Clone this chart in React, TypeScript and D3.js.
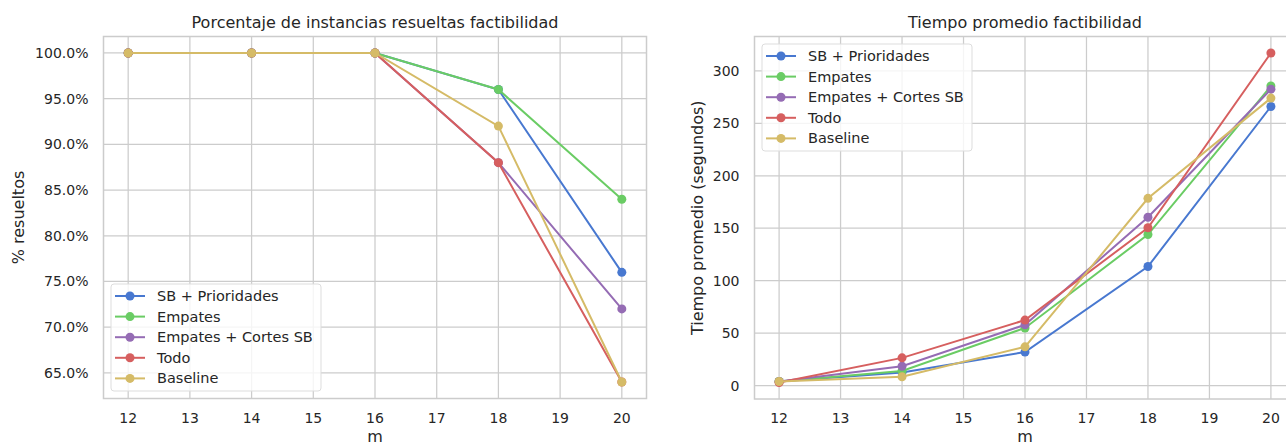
import React, { useEffect, useRef } from "react";
import * as d3 from "d3";

// m values
const categories = [12, 14, 16, 18, 20];
const seriesNames = ["SB + Prioridades", "Empates", "Empates + Cortes SB", "Todo", "Baseline"];
const colors = ["#4878D0", "#6ACC64", "#956CB4", "#D65F5F", "#D5BB67"];

// % de instancias resueltas
const pctSB = [100, 100, 100, 96, 76];
const pctEmpates = [100, 100, 100, 96, 84];
const pctEmpCortes = [100, 100, 100, 88, 72];
const pctTodo = [100, 100, 100, 88, 64];
const pctBaseline = [100, 100, 100, 92, 64];

// tiempo promedio (segundos)
const timeSB = [4, 12.5, 32, 113.5, 266];
const timeEmpates = [4, 14, 55, 144, 285.5];
const timeEmpCortes = [4, 18.5, 58, 160.5, 282.5];
const timeTodo = [3, 26.5, 62.5, 150.5, 317];
const timeBaseline = [4, 8.5, 37, 178.5, 274];

const xTicks = [12, 13, 14, 15, 16, 17, 18, 19, 20];
const pctTicks = [65, 70, 75, 80, 85, 90, 95, 100];
const timeTicks = [0, 50, 100, 150, 200, 250, 300];

const FONT = "DejaVu Sans, sans-serif";
const TEXT = "#262626";
const GRID = "#cccccc";

const Panel = ({ frame, series, yTicks, yFormat, title, yLabel, yLabelX, legendTop }) => {
	const ref = useRef(null);

	useEffect(() => {
		const g = d3.select(ref.current);
		const all = series.flat();
		const [lo, hi] = d3.extent(all);
		const pad = (hi - lo) * 0.05;

		const x = d3.scaleLinear().domain([11.6, 20.4]).range([frame.left, frame.right]);
		const y = d3.scaleLinear().domain([lo - pad, hi + pad]).range([frame.bottom, frame.top]);

		// grid
		g.append("g")
			.selectAll("line")
			.data(xTicks)
			.enter()
			.append("line")
			.attr("x1", (d) => x(d))
			.attr("x2", (d) => x(d))
			.attr("y1", frame.top)
			.attr("y2", frame.bottom)
			.attr("stroke", GRID)
			.attr("stroke-width", 1.25);
		g.append("g")
			.selectAll("line")
			.data(yTicks)
			.enter()
			.append("line")
			.attr("x1", frame.left)
			.attr("x2", frame.right)
			.attr("y1", (d) => y(d))
			.attr("y2", (d) => y(d))
			.attr("stroke", GRID)
			.attr("stroke-width", 1.25);

		// frame
		g.append("rect")
			.attr("x", frame.left)
			.attr("y", frame.top)
			.attr("width", frame.right - frame.left)
			.attr("height", frame.bottom - frame.top)
			.attr("fill", "none")
			.attr("stroke", GRID)
			.attr("stroke-width", 1.5);

		// tick labels
		g.append("g")
			.selectAll("text")
			.data(xTicks)
			.enter()
			.append("text")
			.attr("x", (d) => x(d))
			.attr("y", frame.bottom + 24)
			.attr("text-anchor", "middle")
			.attr("font-size", 14)
			.attr("fill", TEXT)
			.text((d) => d);
		g.append("g")
			.selectAll("text")
			.data(yTicks)
			.enter()
			.append("text")
			.attr("x", frame.left - 15)
			.attr("y", (d) => y(d))
			.attr("dy", "0.35em")
			.attr("text-anchor", "end")
			.attr("font-size", 14)
			.attr("fill", TEXT)
			.text(yFormat);

		// labels
		g.append("text")
			.attr("x", (frame.left + frame.right) / 2)
			.attr("y", 28)
			.attr("text-anchor", "middle")
			.attr("font-size", 16)
			.attr("fill", TEXT)
			.text(title);
		g.append("text")
			.attr("x", (frame.left + frame.right) / 2)
			.attr("y", 442)
			.attr("text-anchor", "middle")
			.attr("font-size", 16)
			.attr("fill", TEXT)
			.text("m");
		g.append("text")
			.attr("transform", `translate(${yLabelX},${(frame.top + frame.bottom) / 2}) rotate(-90)`)
			.attr("dy", "0.35em")
			.attr("text-anchor", "middle")
			.attr("font-size", 16)
			.attr("fill", TEXT)
			.text(yLabel);

		// lines
		const line = d3
			.line()
			.x((d, i) => x(categories[i]))
			.y((d) => y(d));
		series.forEach((values, s) => {
			const sg = g.append("g");
			sg.append("path")
				.attr("d", line(values))
				.attr("fill", "none")
				.attr("stroke", colors[s])
				.attr("stroke-width", 2);
			sg.selectAll("circle")
				.data(values)
				.enter()
				.append("circle")
				.attr("cx", (d, i) => x(categories[i]))
				.attr("cy", (d) => y(d))
				.attr("r", 4.5)
				.attr("fill", colors[s]);
		});

		// legend
		const lx = frame.left + 7.5;
		const ly = legendTop ? frame.top + 7.5 : frame.bottom - 7.5 - 107;
		const lg = g.append("g").attr("transform", `translate(${lx},${ly})`);
		lg.append("rect")
			.attr("width", 210)
			.attr("height", 107)
			.attr("rx", 3)
			.attr("fill", "white")
			.attr("fill-opacity", 0.8)
			.attr("stroke", "#dddddd");
		seriesNames.forEach((name, s) => {
			const ry = 12 + s * 20.6;
			lg.append("line")
				.attr("x1", 4)
				.attr("x2", 34)
				.attr("y1", ry)
				.attr("y2", ry)
				.attr("stroke", colors[s])
				.attr("stroke-width", 2);
			lg.append("circle").attr("cx", 19).attr("cy", ry).attr("r", 4.5).attr("fill", colors[s]);
			lg.append("text")
				.attr("x", 46)
				.attr("y", ry)
				.attr("dy", "0.35em")
				.attr("font-size", 14.5)
				.attr("fill", TEXT)
				.text(name);
		});

		return () => {
			g.selectAll("*").remove();
		};
	}, []);

	return <g ref={ref} fontFamily={FONT}></g>;
};

const App = () => {
	return (
		<div style={{ position: "fixed", left: 0, top: 0 }}>
			<svg width={1286} height={444} style={{ display: "block", background: "white" }}>
				<Panel
					frame={{ left: 103.5, right: 646.5, top: 36.5, bottom: 398.5 }}
					series={[pctSB, pctEmpates, pctEmpCortes, pctTodo, pctBaseline]}
					yTicks={pctTicks}
					yFormat={(d) => d.toFixed(1) + "%"}
					title="Porcentaje de instancias resueltas factibilidad"
					yLabel="% resueltos"
					yLabelX={18}
					legendTop={false}
				/>
				<Panel
					frame={{ left: 754.5, right: 1295.5, top: 36.5, bottom: 399 }}
					series={[timeSB, timeEmpates, timeEmpCortes, timeTodo, timeBaseline]}
					yTicks={timeTicks}
					yFormat={(d) => String(d)}
					title="Tiempo promedio factibilidad"
					yLabel="Tiempo promedio (segundos)"
					yLabelX={697}
					legendTop={true}
				/>
			</svg>
		</div>
	);
};

export default App;
